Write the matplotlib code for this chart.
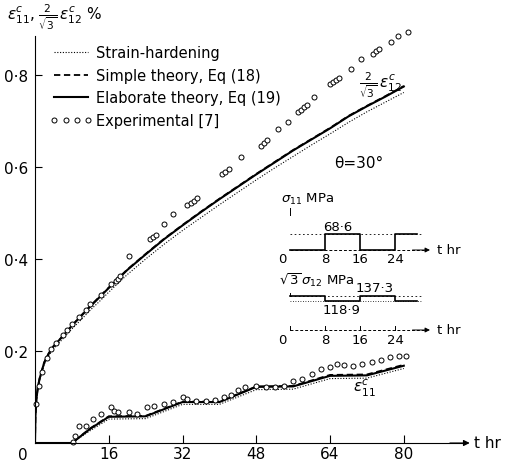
import numpy as np
import matplotlib
matplotlib.use("Agg")
import matplotlib.pyplot as plt

plt.rcParams['font.family'] = ['DejaVu Sans']
plt.rcParams['mathtext.fontset'] = 'dejavusans'

# ---------------- data ----------------
# theory curves for (2/sqrt3) eps12^c  (%)
t_th = [0, 0.1, 0.3, 0.6, 1, 2, 3, 4, 6, 8, 10, 12, 14, 16, 20, 24, 28, 32,
        36, 40, 44, 48, 52, 56, 60, 64, 68, 72, 76, 80]
e12_elab = [0, 0.06, 0.095, 0.12, 0.14, 0.175, 0.195, 0.21, 0.232, 0.255, 0.276,
            0.297, 0.317, 0.337, 0.376, 0.41, 0.443, 0.473, 0.502, 0.53, 0.557,
            0.584, 0.61, 0.636, 0.66, 0.684, 0.71, 0.732, 0.753, 0.775]
e12_simple = [0, 0.06, 0.095, 0.12, 0.14, 0.175, 0.195, 0.21, 0.232, 0.255, 0.277,
              0.298, 0.318, 0.338, 0.377, 0.411, 0.444, 0.474, 0.503, 0.531, 0.558,
              0.585, 0.611, 0.637, 0.661, 0.685, 0.711, 0.733, 0.754, 0.776]
e12_sh = [0, 0.058, 0.092, 0.117, 0.137, 0.171, 0.19, 0.205, 0.226, 0.248, 0.268,
          0.289, 0.308, 0.328, 0.366, 0.4, 0.432, 0.462, 0.49, 0.518, 0.545,
          0.572, 0.598, 0.623, 0.648, 0.672, 0.697, 0.72, 0.741, 0.762]

# theory curves for eps11^c (%)
t_11 = [0, 8, 12, 16, 24, 32, 40, 48, 56, 64, 72, 80]
e11_elab = [0, 0, 0.031, 0.057, 0.058, 0.089, 0.089, 0.122, 0.123, 0.146, 0.147, 0.168]
e11_simple = [0, 0, 0.032, 0.058, 0.059, 0.090, 0.090, 0.123, 0.124, 0.148, 0.149, 0.170]
e11_sh = [0, 0, 0.027, 0.052, 0.053, 0.084, 0.084, 0.116, 0.117, 0.140, 0.141, 0.162]

# experimental [7]
t_x12 = [0.3, 0.8, 1.5, 2.5, 3.5, 4.5, 6, 7, 8, 9.5, 11, 12, 14.3, 16.5, 17.5, 18,
         18.5, 20.4, 25, 25.6, 26.2, 28, 30, 33, 33.8, 34.5, 35.2, 40.5, 41.2, 42,
         44.7, 49, 49.7, 50.4, 52.7, 54.9, 57, 57.7, 58.4, 59.1, 60.5, 64, 64.7,
         65.3, 66, 68.5, 70.7, 73.3, 74, 74.7, 77.2, 78.7, 80.9]
e_x12 = [0.085, 0.125, 0.155, 0.185, 0.205, 0.218, 0.235, 0.245, 0.258, 0.275,
         0.29, 0.302, 0.322, 0.346, 0.352, 0.357, 0.362, 0.407, 0.443, 0.448,
         0.453, 0.476, 0.498, 0.517, 0.522, 0.527, 0.532, 0.584, 0.589, 0.595,
         0.622, 0.645, 0.652, 0.659, 0.683, 0.698, 0.72, 0.725, 0.73, 0.735,
         0.752, 0.78, 0.785, 0.789, 0.794, 0.813, 0.835, 0.846, 0.852, 0.857,
         0.872, 0.885, 0.893]
t_x11 = [8.2, 8.6, 9.5, 11, 12.5, 14.3, 16.4, 17.2, 18, 20.3, 22.2, 24.4, 25.8,
         28, 30, 32, 33, 35, 37, 39, 41, 42.5, 44, 45.5, 48, 50, 52, 54, 56, 58,
         60, 62, 64, 65.5, 67, 69, 71, 73, 75, 77, 79, 80.5]
e_x11 = [0.002, 0.015, 0.037, 0.037, 0.052, 0.063, 0.078, 0.07, 0.067, 0.067,
         0.063, 0.078, 0.08, 0.085, 0.09, 0.1, 0.096, 0.092, 0.092, 0.093, 0.1,
         0.105, 0.115, 0.122, 0.125, 0.122, 0.122, 0.124, 0.135, 0.14, 0.15,
         0.16, 0.165, 0.172, 0.17, 0.168, 0.172, 0.176, 0.18, 0.186, 0.19, 0.19]

# loading histories (insets)
t_load = [0, 8, 16, 24, 29]
sigma11 = [0, 68.6, 0, 68.6, 68.6]
sqrt3_sigma12 = [137.3, 118.9, 137.3, 118.9, 118.9]
inset_ticks = [0, 8, 16, 24]

legend_labels = ["Strain-hardening", "Simple theory, Eq (18)",
                 "Elaborate theory, Eq (19)", "Experimental [7]"]

# ---------------- figure ----------------
W, H = 506, 464
fig = plt.figure(figsize=(W / 100, H / 100), dpi=100)
x0, y0 = 35, 444          # pixel of origin
pxh, pyu = 4.61, 460.0    # px per hr, px per unit strain
xmax, ymax = 95, 0.92
ax = fig.add_axes([x0 / W, (H - y0) / H, xmax * pxh / W, ymax * pyu / H])
ax.set_xlim(0, xmax)
ax.set_ylim(0, ymax)

k = 'black'
l_sh, = ax.plot(t_th, e12_sh, color=k, ls=(0, (1, 1.5)), lw=0.8)
l_si, = ax.plot(t_th, e12_simple, color=k, ls=(0, (3.5, 2)), lw=1.3)
l_el, = ax.plot(t_th, e12_elab, color=k, ls='-', lw=1.5)
ax.plot(t_11, e11_sh, color=k, ls=(0, (1, 1.5)), lw=0.8)
ax.plot(t_11, e11_simple, color=k, ls=(0, (3.5, 2)), lw=1.3)
ax.plot(t_11, e11_elab, color=k, ls='-', lw=1.5)
l_ex, = ax.plot(t_x12, e_x12, ls='none', marker='o', ms=3.6, mfc='white',
                mec=k, mew=0.7, clip_on=False)
ax.plot(t_x11, e_x11, ls='none', marker='o', ms=3.6, mfc='white',
        mec=k, mew=0.7, clip_on=False)

# axes styling
for s in ['top', 'right']:
    ax.spines[s].set_visible(False)
ax.spines['left'].set_bounds(0, 0.885)
ax.spines['bottom'].set_bounds(0, 93)
ax.spines['left'].set_linewidth(0.8)
ax.spines['bottom'].set_linewidth(0.8)
ax.set_xticks([16, 32, 48, 64, 80])
ax.set_yticks([0.2, 0.4, 0.6, 0.8])
ax.set_yticklabels(['0·2', '0·4', '0·6', '0·8'])
ax.tick_params(axis='y', direction='in', length=5, width=0.8, pad=5, labelsize=11)
ax.tick_params(axis='x', direction='in', length=6, width=0.8, pad=2, labelsize=11)
ax.annotate('', xy=(94.3, 0), xytext=(90, 0),
            arrowprops=dict(arrowstyle='-|>', color=k, lw=0.8,
                            mutation_scale=9, shrinkA=0, shrinkB=0),
            annotation_clip=False)
ax.text(95.3, 0, 't hr', fontsize=11, ha='left', va='center', clip_on=False)
ax.text(-1.5, -0.008, '0', fontsize=11, ha='right', va='top', clip_on=False)

# texts
fig.text(7 / W, 1 - 17 / H,
         r'$\varepsilon^{c}_{11}$, $\frac{2}{\sqrt{3}}\,\varepsilon^{c}_{12}$ %',
         fontsize=11, ha='left', va='center')
ax.text(70.2, 0.78, r'$\frac{2}{\sqrt{3}}\,\varepsilon^{c}_{12}$', fontsize=11,
        ha='left', va='center')
ax.text(64.8, 0.61, 'θ=30°', fontsize=11, ha='left', va='center')
ax.text(69, 0.12, r'$\varepsilon^{c}_{11}$', fontsize=11, ha='left', va='center')

leg = ax.legend([l_sh, l_si, l_el, l_ex], legend_labels, loc='upper left',
                bbox_to_anchor=(50 / W, 1 - 46 / H), bbox_transform=fig.transFigure,
                frameon=False, fontsize=10.5, handlelength=2.9, handletextpad=0.25,
                labelspacing=0.53, borderpad=0, borderaxespad=0, numpoints=4)

# ---------------- inset: sigma11 ----------------
fs_in = 9.5
ia = fig.add_axes([290 / W, (H - 251) / H, 140 / W, 16 / H])
ia.set_xlim(0, 32)
ia.set_ylim(0, 68.6)
ia.axis('off')
ia.plot([0, 30], [68.6, 68.6], color=k, ls=(0, (2, 3)), lw=0.6, clip_on=False)
ia.plot([0, 31], [0, 0], color=k, ls=(0, (3, 2)), lw=0.7, clip_on=False)
ia.annotate('', xy=(32, 0), xytext=(28, 0),
            arrowprops=dict(arrowstyle='-|>', color=k, lw=0.7, mutation_scale=7,
                            shrinkA=0, shrinkB=0), annotation_clip=False)
ia.step(t_load, sigma11, where='post', color=k, lw=1.2, clip_on=False)
for tk in inset_ticks:
    ia.text(tk - (0.8 if tk == 0 else 0), -8, str(tk), fontsize=fs_in,
            ha='right' if tk == 0 else 'center', va='top', clip_on=False)
ia.text(10.8, 75, '68·6', fontsize=fs_in, ha='center', va='bottom', clip_on=False)
ia.text(33.5, 0, 't hr', fontsize=fs_in, ha='left', va='center', clip_on=False)
ia.text(-2, 205, r'$\sigma_{11}$ MPa', fontsize=fs_in, ha='left', va='baseline',
        clip_on=False)
ia.plot([0, 0], [150, 180], color=k, lw=0.7, clip_on=False)

# ---------------- inset: sqrt3 sigma12 ----------------
ib = fig.add_axes([290 / W, (H - 302) / H, 140 / W, 5 / H])
ib.set_xlim(0, 32)
ib.set_ylim(118.9, 137.3)
ib.axis('off')
ib.plot([0, 30], [137.3, 137.3], color=k, ls=(0, (2, 3)), lw=0.6, clip_on=False)
ib.plot([0, 30], [118.9, 118.9], color=k, ls=(0, (1, 2)), lw=0.6, clip_on=False)
ib.step(t_load, sqrt3_sigma12, where='post', color=k, lw=1.2, clip_on=False)
ib.text(11.7, 112, '118·9', fontsize=fs_in, ha='center', va='top', clip_on=False)
ib.text(19.4, 143, '137·3', fontsize=fs_in, ha='center', va='bottom', clip_on=False)
ib.text(-2.5, 181, r'$\sqrt{3}\,\sigma_{12}$ MPa', fontsize=fs_in, ha='left',
        va='baseline', clip_on=False)
ib.plot([0, 0], [137.3, 150], color=k, lw=0.7, clip_on=False)
tb = ib.get_xaxis_transform()
ib.plot([0, 31], [-5.8, -5.8], color=k, ls=(0, (3, 2)), lw=0.7, transform=tb,
        clip_on=False)
ib.annotate('', xy=(32, -5.8), xytext=(28, -5.8), xycoords=tb, textcoords=tb,
            arrowprops=dict(arrowstyle='-|>', color=k, lw=0.7, mutation_scale=7,
                            shrinkA=0, shrinkB=0), annotation_clip=False)
for tk in inset_ticks:
    ib.plot([tk, tk], [-5.8, -5.0], color=k, lw=0.7, transform=tb, clip_on=False)
    ib.text(tk - (0.8 if tk == 0 else 0), -6.3, str(tk), fontsize=fs_in,
            ha='right' if tk == 0 else 'center', va='top', transform=tb,
            clip_on=False)
ib.text(33.5, -5.8, 't hr', fontsize=fs_in, ha='left', va='center', transform=tb,
        clip_on=False)

fig.savefig('out.png', dpi=100)
